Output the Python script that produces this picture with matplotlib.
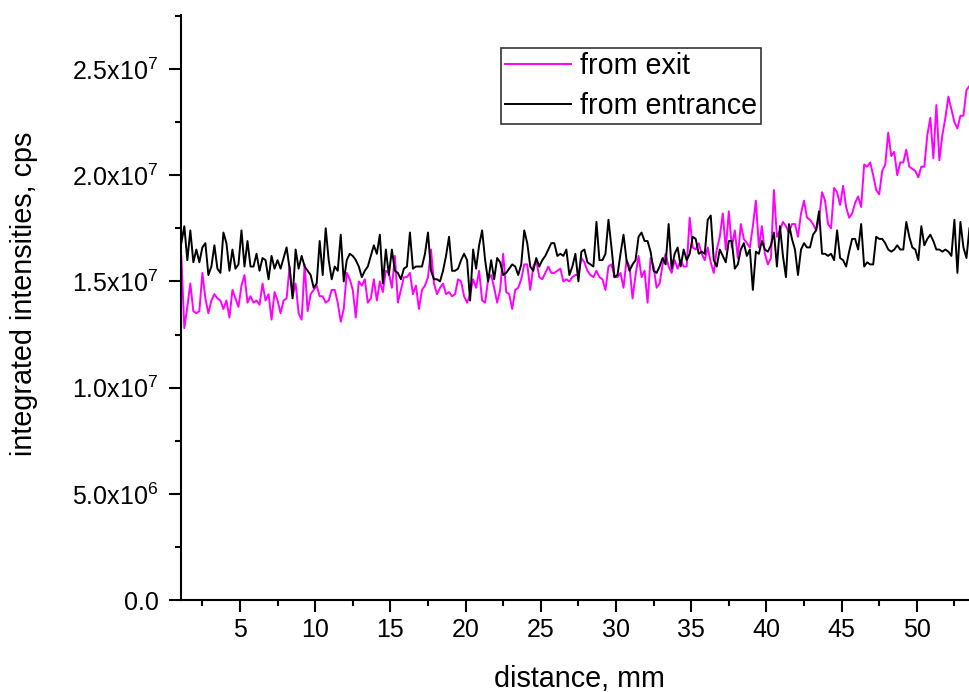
import numpy as np
import matplotlib
matplotlib.use("Agg")
import matplotlib.pyplot as plt
from matplotlib.ticker import MultipleLocator, FixedLocator, FixedFormatter

plt.rcParams['font.family'] = ['Liberation Sans', 'DejaVu Sans']
plt.rcParams['mathtext.default'] = 'regular'

# scan positions along the sample, mm (0.2 mm step)
x_start, x_step, n_points = 1.1, 0.2, 263
distance = np.round(x_start + x_step * np.arange(n_points), 2)

# integrated intensities, in units of 1e7 cps
from_exit = [
    1.62, 1.28, 1.38, 1.49, 1.36, 1.35, 1.36, 1.54, 1.42, 1.35, 1.41, 1.44, 1.42, 1.41, 1.37, 1.41,
    1.33, 1.46, 1.42, 1.38, 1.48, 1.53, 1.40, 1.43, 1.40, 1.41, 1.39, 1.49, 1.41, 1.44, 1.32, 1.45,
    1.41, 1.35, 1.41, 1.42, 1.57, 1.43, 1.49, 1.35, 1.32, 1.58, 1.36, 1.44,
    1.46, 1.48, 1.43, 1.43, 1.40, 1.41, 1.46, 1.46, 1.40, 1.31, 1.37, 1.54, 1.51, 1.46, 1.33, 1.50,
    1.48, 1.51, 1.40, 1.42, 1.51, 1.41, 1.50, 1.45, 1.55, 1.54, 1.47, 1.62, 1.40, 1.46, 1.52, 1.52,
    1.54, 1.44, 1.48, 1.37, 1.46, 1.48, 1.52, 1.65, 1.49, 1.44, 1.47, 1.49,
    1.44, 1.45, 1.43, 1.44, 1.51, 1.50, 1.43, 1.40, 1.44, 1.51, 1.47, 1.55, 1.41, 1.40, 1.51, 1.53,
    1.47, 1.40, 1.46, 1.63, 1.45, 1.44, 1.37, 1.46, 1.47, 1.51, 1.58, 1.58, 1.46, 1.57, 1.60, 1.52,
    1.51, 1.54, 1.57, 1.54, 1.54, 1.55, 1.56, 1.50, 1.51, 1.50, 1.52,
    1.53, 1.53, 1.61, 1.59, 1.55, 1.53, 1.52, 1.55, 1.52, 1.51, 1.46, 1.57, 1.58, 1.52, 1.52, 1.54,
    1.47, 1.60, 1.57, 1.42, 1.53, 1.62, 1.52, 1.55, 1.40, 1.61, 1.57, 1.47, 1.49, 1.58, 1.63, 1.57,
    1.54, 1.60, 1.56, 1.60, 1.57, 1.57, 1.80, 1.66, 1.65, 1.68, 1.63, 1.60,
    1.66, 1.59, 1.54, 1.65, 1.71, 1.82, 1.65, 1.83, 1.66, 1.74, 1.61, 1.77, 1.70, 1.68, 1.66, 1.76,
    1.88, 1.66, 1.76, 1.63, 1.58, 1.61, 1.93, 1.71, 1.74, 1.78, 1.76, 1.73, 1.77, 1.77, 1.71, 1.82,
    1.88, 1.80, 1.79, 1.77, 1.74, 1.79, 1.92, 1.88, 1.77, 1.75, 1.94,
    1.92, 1.86, 1.95, 1.85, 1.80, 1.82, 1.87, 1.90, 1.85, 2.05, 2.04, 2.06, 2.00, 1.93, 1.91, 2.02,
    2.05, 2.20, 2.09, 2.11, 2.00, 2.06, 2.06, 2.12, 2.04, 2.03, 2.02, 1.99, 2.04, 2.04, 2.19, 2.27,
    2.08, 2.33, 2.07, 2.19, 2.27, 2.37, 2.31, 2.25, 2.22, 2.28, 2.28, 2.40, 2.42,
]
from_entrance = [
    1.68, 1.76, 1.60, 1.74, 1.59, 1.65, 1.59, 1.66, 1.68, 1.53, 1.57, 1.67, 1.56, 1.54, 1.73, 1.68,
    1.55, 1.65, 1.56, 1.58, 1.74, 1.57, 1.69, 1.57, 1.57, 1.63, 1.55, 1.61, 1.60, 1.51, 1.62, 1.56,
    1.60, 1.56, 1.61, 1.66, 1.56, 1.42, 1.65, 1.56, 1.62, 1.57, 1.55, 1.53,
    1.47, 1.49, 1.69, 1.53, 1.75, 1.60, 1.51, 1.57, 1.55, 1.72, 1.50, 1.60, 1.63, 1.62, 1.60, 1.57,
    1.52, 1.55, 1.57, 1.62, 1.67, 1.63, 1.72, 1.49, 1.65, 1.53, 1.65, 1.55, 1.54, 1.51, 1.56, 1.57,
    1.73, 1.56, 1.57, 1.57, 1.57, 1.63, 1.73, 1.55, 1.51, 1.51, 1.50, 1.55,
    1.62, 1.71, 1.55, 1.55, 1.56, 1.60, 1.63, 1.60, 1.41, 1.65, 1.56, 1.67, 1.74, 1.60, 1.50, 1.60,
    1.51, 1.61, 1.59, 1.53, 1.54, 1.56, 1.58, 1.57, 1.53, 1.58, 1.74, 1.68, 1.57, 1.55, 1.61, 1.57,
    1.60, 1.62, 1.65, 1.68, 1.68, 1.62, 1.63, 1.62, 1.65, 1.53, 1.57,
    1.63, 1.50, 1.64, 1.65, 1.59, 1.58, 1.57, 1.78, 1.60, 1.60, 1.63, 1.79, 1.66, 1.52, 1.53, 1.63,
    1.72, 1.60, 1.55, 1.58, 1.60, 1.71, 1.73, 1.69, 1.69, 1.64, 1.55, 1.54, 1.57, 1.61, 1.58, 1.77,
    1.56, 1.63, 1.66, 1.57, 1.65, 1.60, 1.63, 1.71, 1.70, 1.63, 1.64, 1.63,
    1.79, 1.81, 1.60, 1.57, 1.65, 1.62, 1.59, 1.69, 1.69, 1.56, 1.58, 1.65, 1.68, 1.62, 1.65, 1.46,
    1.64, 1.63, 1.69, 1.65, 1.64, 1.67, 1.73, 1.57, 1.76, 1.62, 1.52, 1.77, 1.70, 1.65, 1.53, 1.65,
    1.68, 1.66, 1.66, 1.72, 1.74, 1.83, 1.63, 1.63, 1.62, 1.63, 1.60,
    1.74, 1.61, 1.60, 1.57, 1.64, 1.70, 1.70, 1.65, 1.77, 1.57, 1.59, 1.58, 1.58, 1.71, 1.70, 1.70,
    1.68, 1.65, 1.64, 1.65, 1.67, 1.65, 1.65, 1.78, 1.71, 1.66, 1.65, 1.60, 1.76, 1.67, 1.70, 1.72,
    1.69, 1.65, 1.65, 1.64, 1.65, 1.64, 1.62, 1.79, 1.54, 1.78, 1.66, 1.61, 1.75,
]

y_ticks = [0, 5e6, 1e7, 1.5e7, 2e7, 2.5e7]
y_tick_labels = ['0.0', r'5.0x10$^{6}$', r'1.0x10$^{7}$', r'1.5x10$^{7}$',
                 r'2.0x10$^{7}$', r'2.5x10$^{7}$']
x_ticks = [5, 10, 15, 20, 25, 30, 35, 40, 45, 50]

fig = plt.figure(figsize=(9.69, 6.92), dpi=100)
ax = fig.add_axes([0.1868, 0.1329, 0.8132, 0.8454])

ax.plot(distance, np.array(from_exit) * 1e7, color='#ff00ff', lw=1.4, label='from exit')
ax.plot(distance, np.array(from_entrance) * 1e7, color='black', lw=1.4, label='from entrance')

ax.set_xlim(1.08, 53.47)
ax.set_ylim(0, 2.754e7)

for side in ['top', 'right']:
    ax.spines[side].set_visible(False)
for side in ['left', 'bottom']:
    ax.spines[side].set_linewidth(1.5)

ax.xaxis.set_major_locator(FixedLocator(x_ticks))
ax.xaxis.set_minor_locator(MultipleLocator(2.5))
ax.yaxis.set_major_locator(FixedLocator(y_ticks))
ax.yaxis.set_major_formatter(FixedFormatter(y_tick_labels))
ax.yaxis.set_minor_locator(MultipleLocator(2.5e6))
ax.tick_params(which='major', direction='out', length=8.6, width=1.5, labelsize=18)
ax.tick_params(which='minor', direction='out', length=4.3, width=1.5)
ax.tick_params(axis='x', which='major', pad=4.5)
ax.tick_params(axis='y', which='major', pad=7.5)

ax.set_xlabel('distance, mm', fontsize=20.7)
ax.set_ylabel('integrated intensities, cps', fontsize=20.7)
ax.xaxis.set_label_coords(0.505, -0.111)
ax.yaxis.set_label_coords(-0.181, 0.523)

leg = ax.legend(loc='upper left', bbox_to_anchor=(0.5168, 0.9306), bbox_transform=fig.transFigure,
                fontsize=20.6, frameon=True, fancybox=False, edgecolor='black',
                handlelength=2.3, handletextpad=0.32, labelspacing=0.42, borderpad=0.14,
                borderaxespad=0)
leg.get_frame().set_linewidth(1.2)

fig.savefig('out.png', dpi=100)
